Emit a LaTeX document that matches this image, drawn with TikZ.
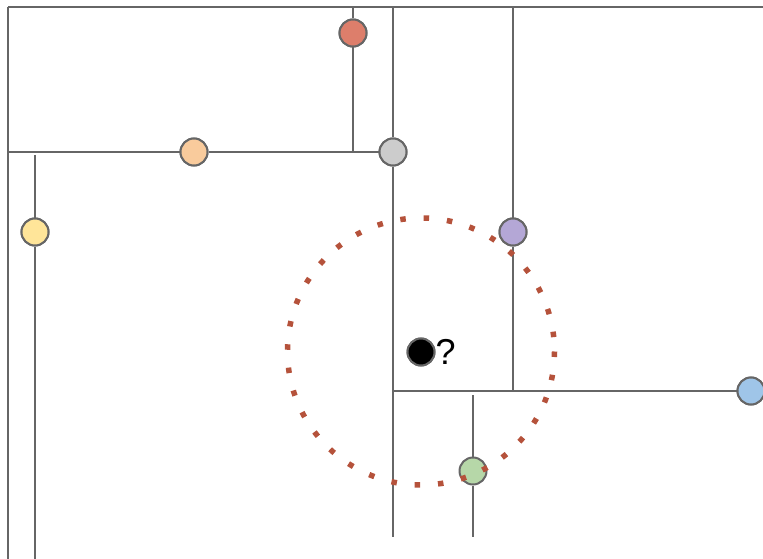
\documentclass[tikz,border=0pt]{standalone}
\usepackage{fontspec}
\setmainfont{Liberation Sans}
\begin{document}
\begin{tikzpicture}[x=1pt,y=-1pt,
  wire/.style={draw=linegray,line width=2.2pt},
  dotnode/.style={circle,draw=linegray,line width=2pt,minimum size=27pt,inner sep=0pt},
  ring/.style={draw=ringred,line width=5.5pt,dash pattern=on 5.5pt off 17.9pt}]
\definecolor{linegray}{HTML}{666666}
\definecolor{ringred}{HTML}{B5523B}
\definecolor{cred}{HTML}{DD7E6B}
\definecolor{corange}{HTML}{F9CB9C}
\definecolor{cgray}{HTML}{CCCCCC}
\definecolor{cyellow}{HTML}{FFE599}
\definecolor{cpurple}{HTML}{B4A7D6}
\definecolor{cblue}{HTML}{9FC5E8}
\definecolor{cgreen}{HTML}{B6D7A8}
\useasboundingbox (0,0) rectangle (763,559);
% corner coordinates
\coordinate (tl) at (8,7);
\coordinate (tr) at (763,7);
\coordinate (bl) at (8,559);
\coordinate (ml) at (8,152);
\coordinate (t353) at (353,7);
\coordinate (b353) at (353,152);
\coordinate (t393) at (393,7);
\coordinate (b393) at (393,537);
\coordinate (m393) at (393,391);
\coordinate (t513) at (513,7);
\coordinate (b513) at (513,391);
\coordinate (t35) at (35,155);
\coordinate (b35) at (35,559);
\coordinate (t473) at (473,395);
\coordinate (b473) at (473,537);
% nodes
\node[dotnode,fill=cred] (red) at (353,33) {};
\node[dotnode,fill=corange] (orange) at (194,152) {};
\node[dotnode,fill=cgray] (gray) at (393,152) {};
\node[dotnode,fill=cyellow] (yellow) at (35,232) {};
\node[dotnode,fill=cpurple] (purple) at (513,232) {};
\node[dotnode,fill=cblue] (blue) at (751,391) {};
\node[dotnode,fill=cgreen] (green) at (473,471) {};
\node[dotnode,fill=black] (query) at (421,352) {};
\node[anchor=west,inner sep=0pt,font=\fontsize{36}{36}\selectfont] (qmark) at (query.east) {?};
% lines
\draw[wire] (tl) -- (tr);
\draw[wire] (tl) -- (bl);
\draw[wire] (ml) -- (orange) -- (gray);
\draw[wire] (t353) -- (red) -- (b353);
\draw[wire] (t393) -- (gray) -- (m393) -- (b393);
\draw[wire] (t513) -- (purple) -- (b513);
\draw[wire] (m393) -- (blue);
\draw[wire] (t35) -- (yellow) -- (b35);
\draw[wire] (t473) -- (green) -- (b473);
% ring
\draw[ring] (421,351.5) circle[radius=133.5];
% redraw nodes on top
\node[dotnode,fill=cred] at (red) {};
\node[dotnode,fill=corange] at (orange) {};
\node[dotnode,fill=cgray] at (gray) {};
\node[dotnode,fill=cyellow] at (yellow) {};
\node[dotnode,fill=cpurple] at (purple) {};
\node[dotnode,fill=cblue] at (blue) {};
\node[dotnode,fill=black] at (query) {};
\end{tikzpicture}
\end{document}
